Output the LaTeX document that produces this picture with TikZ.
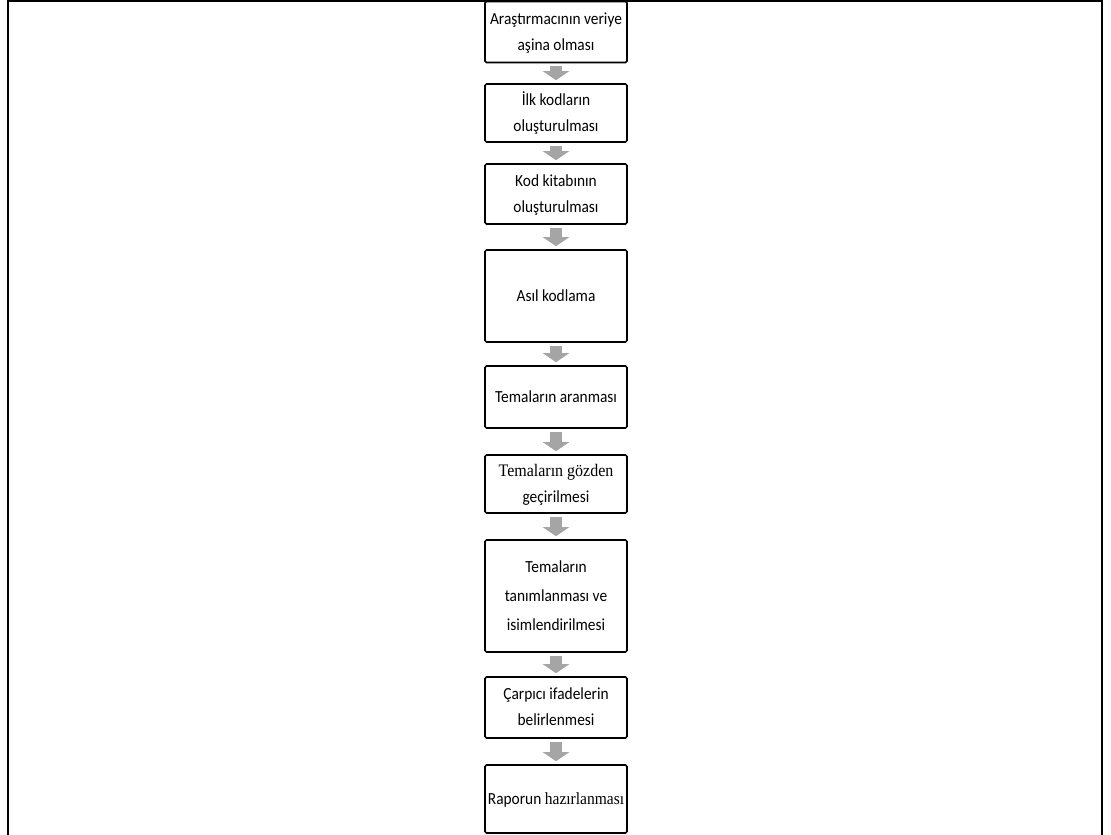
\documentclass[tikz,border=0pt]{standalone}
\usepackage{fontspec}
\setmainfont{Carlito}
\newfontfamily\tnr{Liberation Serif}
\usetikzlibrary{arrows.meta}
\definecolor{arrowgray}{HTML}{A5A5A5}
\newcommand\boxtext[2][23.6]{\scalebox{1}[1.1]{\fontsize{15.4}{#1}\selectfont\begin{tabular}{@{}c@{}}#2\end{tabular}}}
\newcommand\serifpart[2][16]{{\tnr\fontsize{#1}{23.6}\selectfont #2}}
\begin{document}
\begin{tikzpicture}[x=1pt,y=-1pt,
  stepbox/.style={draw=black, line width=1.6pt, rounded corners=1.5pt,
    minimum width=142pt, align=center, inner sep=0pt},
  flowarrow/.style={draw=arrowgray, line width=12pt,
    -{Triangle[width=26pt,length=9pt]}, shorten <=3pt, shorten >=3pt},
  frame/.style={draw=black, line width=2pt}]
\useasboundingbox (0,0) rectangle (1111,835);
\clip (0,0) rectangle (1111,835);
\coordinate (fl) at (8,850);
\coordinate (fr) at (1102,850);
\draw[frame] (fl) |- (1102,1) -- (fr);
\node[stepbox, minimum height=61pt] (b1) at (556,32) {\boxtext{Araştırmacının veriye\\aşina olması}};
\node[stepbox, minimum height=58pt] (b2) at (556,113) {\boxtext{İlk kodların\\oluşturulması}};
\node[stepbox, minimum height=60pt] (b3) at (556,194) {\boxtext{Kod kitabının\\oluşturulması}};
\node[stepbox, minimum height=92pt] (b4) at (556,296) {\boxtext{Asıl kodlama}};
\node[stepbox, minimum height=62pt] (b5) at (556,397) {\boxtext{Temaların aranması}};
\node[stepbox, minimum height=58pt] (b6) at (556,484) {\boxtext{\serifpart{Temaların gözden}\\geçirilmesi}};
\node[stepbox, minimum height=112pt] (b7) at (556,596) {\boxtext[26.5]{Temaların\\tanımlanması ve\\isimlendirilmesi}};
\node[stepbox, minimum height=61pt] (b8) at (556,707.5) {\boxtext{Çarpıcı ifadelerin\\belirlenmesi}};
\node[stepbox, minimum height=68pt] (b9) at (556,799) {\boxtext{Raporun \serifpart[15.5]{hazırlanması}}};
\foreach \a/\b in {b1/b2,b2/b3,b3/b4,b4/b5,b5/b6,b6/b7,b7/b8,b8/b9}
  \draw[flowarrow] (\a.south) -- (\b.north);
\end{tikzpicture}
\end{document}
